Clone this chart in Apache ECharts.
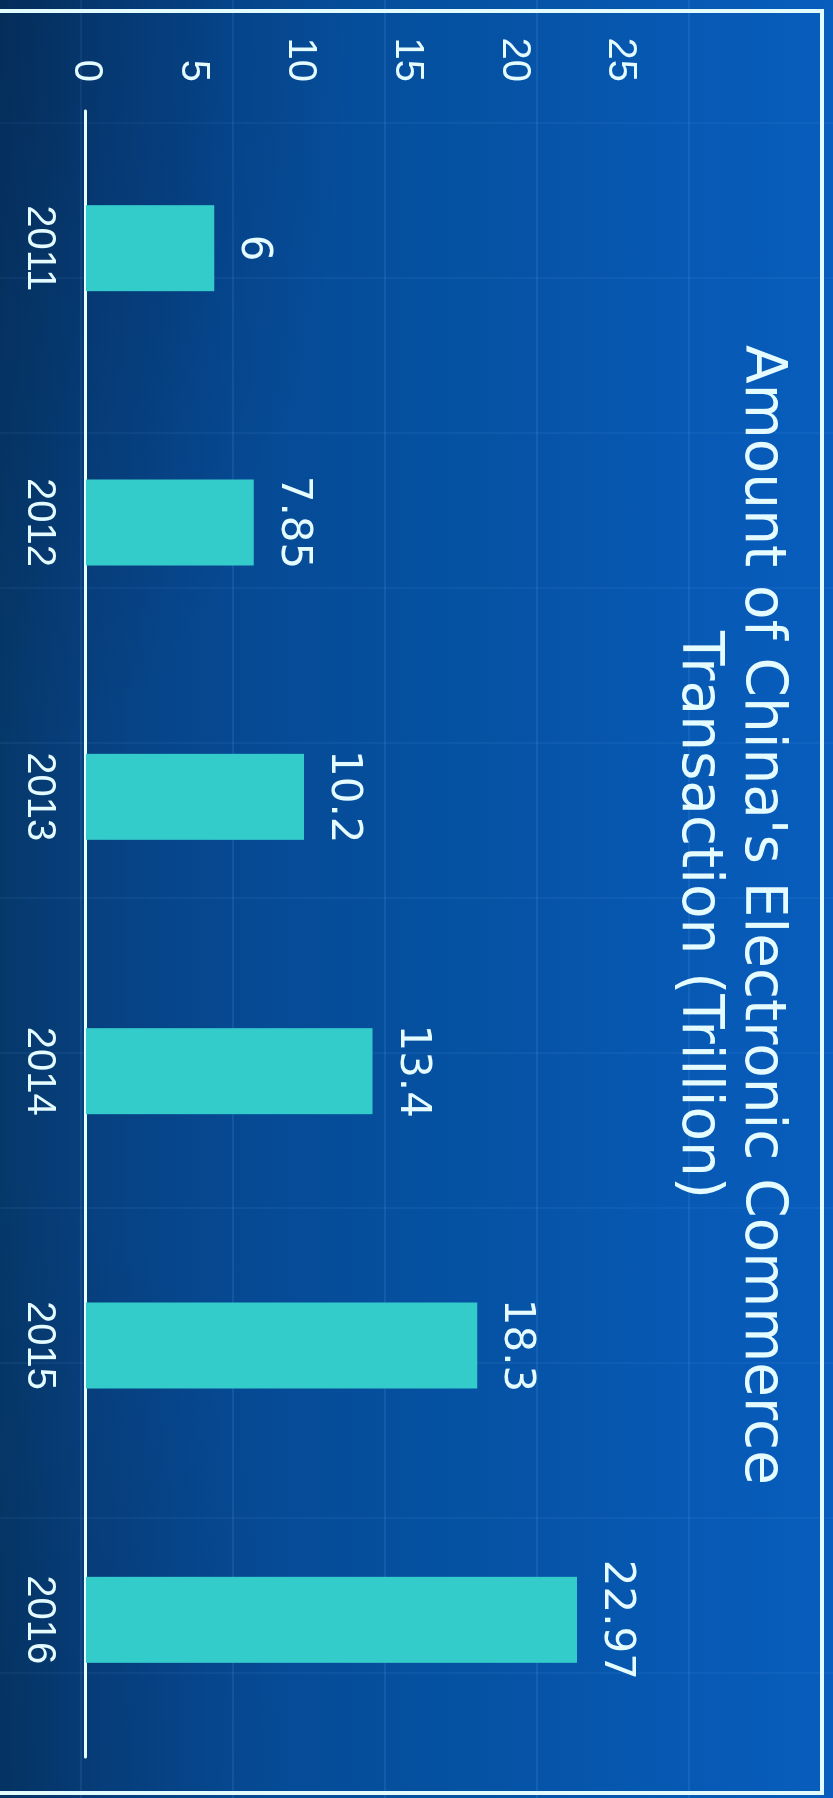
<!DOCTYPE html>
<html>
<head>
<meta charset="utf-8">
<script src="https://cdn.jsdelivr.net/npm/echarts@6/dist/echarts.min.js"></script>
<style>
  html, body { margin: 0; padding: 0; }
  body {
    width: 833px; height: 1798px; overflow: hidden; position: relative;
    background: linear-gradient(90deg, #06386a 0%, #074181 12%, #064993 28%, #05509f 50%, #0656ad 72%, #085dbd 100%);
  }
  #grid-bg {
    position: absolute; left: 0; top: 0; width: 833px; height: 1798px;
    background-image:
      repeating-linear-gradient(90deg, transparent 0px, transparent 80px, rgba(120,180,255,0.12) 80px, rgba(120,180,255,0.12) 82px, transparent 82px, transparent 152px),
      repeating-linear-gradient(0deg, transparent 0px, transparent 124px, rgba(120,180,255,0.07) 124px, rgba(120,180,255,0.07) 126px, transparent 126px, transparent 155px);
  }
  #shade {
    position: absolute; left: 0; top: 0; width: 833px; height: 1798px;
    background: radial-gradient(ellipse at 0% 0%, rgba(0,20,50,0.3) 0%, rgba(0,20,50,0) 30%),
                radial-gradient(ellipse at 0% 100%, rgba(0,20,50,0.15) 0%, rgba(0,20,50,0) 25%);
  }
  .frame { position: absolute; background: #e2fbff; }
  #chart {
    position: absolute; left: 0; top: 0; width: 1798px; height: 833px;
    transform-origin: 0 0; transform: translate(833px, 0) rotate(90deg);
  }
</style>
</head>
<body>
<div id="grid-bg"></div>
<div id="shade"></div>
<div class="frame" style="left:0; top:9px; width:824px; height:4px;"></div>
<div class="frame" style="left:820px; top:9px; width:4px; height:1786px;"></div>
<div class="frame" style="left:0; top:1791px; width:824px; height:4px;"></div>
<div id="chart"></div>
<script>
const titleLines = ["Amount of China's Electronic Commerce", "Transaction (Trillion)"];
const years = ["2011", "2012", "2013", "2014", "2015", "2016"];
const amounts = [6, 7.85, 10.2, 13.4, 18.3, 22.97];
const valueTicks = [0, 5, 10, 15, 20, 25];

const textColor = '#e4fbff';
const chart = echarts.init(document.getElementById('chart'), null, { renderer: 'canvas' });
chart.setOption({
  animation: false,
  backgroundColor: 'transparent',
  title: {
    text: titleLines.join('\n'),
    left: 910,
    textAlign: 'center',
    top: 36,
    textStyle: {
      color: textColor,
      fontFamily: 'DejaVu Sans',
      fontWeight: 'normal',
      fontSize: 56.5,
      lineHeight: 63
    }
  },
  grid: { left: 111, right: 41, top: 212.5, bottom: 86, containLabel: false },
  xAxis: {
    type: 'category',
    data: years,
    axisLine: { show: true, lineStyle: { color: '#e6ffff', width: 3 } },
    axisTick: { show: false },
    splitLine: { show: false },
    axisLabel: { color: textColor, fontFamily: 'Liberation Sans', fontSize: 40, margin: 27 }
  },
  yAxis: {
    type: 'value',
    min: valueTicks[0],
    max: valueTicks[valueTicks.length - 1],
    interval: valueTicks[1] - valueTicks[0],
    axisLine: { show: false },
    axisTick: { show: false },
    splitLine: { show: false },
    axisLabel: { color: textColor, fontFamily: 'Liberation Sans', fontSize: 40, margin: 29 }
  },
  series: [{
    type: 'bar',
    data: amounts,
    barWidth: 86,
    itemStyle: { color: '#34cbcb' },
    label: {
      show: true,
      position: 'top',
      distance: 18,
      color: textColor,
      fontFamily: 'DejaVu Sans',
      fontSize: 42
    }
  }]
});
</script>
</body>
</html>
